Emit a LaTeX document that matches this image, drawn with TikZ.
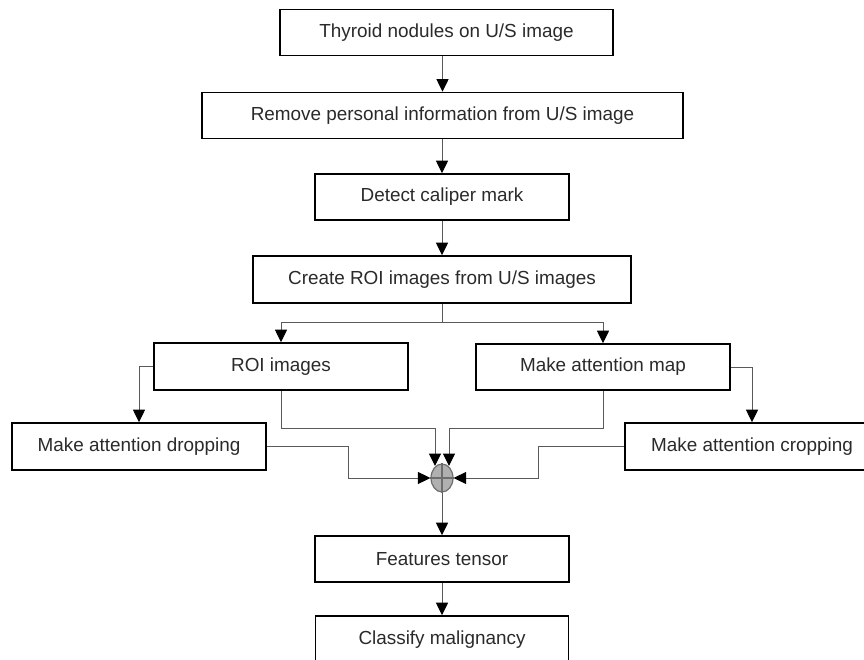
\documentclass[tikz,border=0pt]{standalone}
\usepackage{fontspec}
\setmainfont{Liberation Sans}
\usetikzlibrary{arrows.meta,shapes.geometric,calc}
\definecolor{txt}{HTML}{2A2A2A}
\definecolor{conn}{HTML}{5A5A5A}
\definecolor{sumfill}{HTML}{B0B0B0}
\definecolor{sumline}{HTML}{6E6E6E}
\tikzset{
  box/.style={draw=black, line width=1.6pt, inner sep=0pt, minimum height=46pt,
    text=txt, font=\fontsize{18.9}{22}\selectfont},
  conline/.style={draw=conn, line width=1pt},
  arr/.style={conline, -{Triangle[length=12.5pt,width=12pt,color=black]}},
}
\begin{document}
\begin{tikzpicture}[x=1pt,y=-1pt]
\useasboundingbox (0,0) rectangle (864,660);
\clip (0,0) rectangle (864,660);
\node[box, minimum width=333pt] (b1) at (446.5,32.5) {Thyroid nodules on U/S image};
\node[box, minimum width=481pt] (b2) at (442.5,115.5) {Remove personal information from U/S image};
\node[box, minimum width=254pt] (b3) at (442,197) {Detect caliper mark};
\node[box, minimum width=378pt, minimum height=47pt] (b4) at (442,279.5) {Create ROI images from U/S images};
\node[box, minimum width=254pt, minimum height=47pt] (roi) at (281,366.5) {ROI images};
\node[box, minimum width=254pt] (map) at (603,367) {Make attention map};
\node[box, minimum width=254pt, minimum height=47pt] (drop) at (139,446.5) {Make attention dropping};
\node[box, minimum width=254pt, minimum height=47pt] (crop) at (752,446.5) {Make attention cropping};
\node[box, minimum width=254pt] (feat) at (442,559) {Features tensor};
\node[box, minimum width=253pt, minimum height=48pt] (cls) at (442,640) {Classify malignancy};
\node[ellipse, draw=sumline, fill=sumfill, line width=1.2pt, minimum width=22pt, minimum height=28pt, inner sep=0pt] (sum) at (442,478) {};
\draw[sumline, line width=1.2pt] (sum.north) -- (sum.south) (sum.west) -- (sum.east);
% coordinates
\coordinate (j1) at (442,322);
\coordinate (r1) at (435,428);
\coordinate (r2) at (435,466);
\coordinate (m1) at (449,428);
\coordinate (m2) at (449,466);
\coordinate (dk) at (348,478);
\coordinate (ck) at (538,478);
% connectors
\draw[arr] (b1.south -| b2.north) -- (b2.north);
\draw[arr] (b2.south -| b3.north) -- (b3.north);
\draw[arr] (b3.south) -- (b4.north);
\draw[conline] (b4.south) -- (j1);
\draw[arr] (j1) -| (roi.north);
\draw[arr] (j1) -| (map.north);
\draw[arr] (roi.west) -| (drop.north);
\draw[arr] (map.east) -| (crop.north);
\draw[arr] (roi.south) |- (r1) -- (r2);
\draw[arr] (map.south) |- (m1) -- (m2);
\draw[arr] (drop.east) -| (dk) -- (sum.west);
\draw[arr] (crop.west) -| (ck) -- (sum.east);
\draw[arr] (sum.south) -- (feat.north);
\draw[arr] (feat.south) -- (cls.north);
\end{tikzpicture}
\end{document}
